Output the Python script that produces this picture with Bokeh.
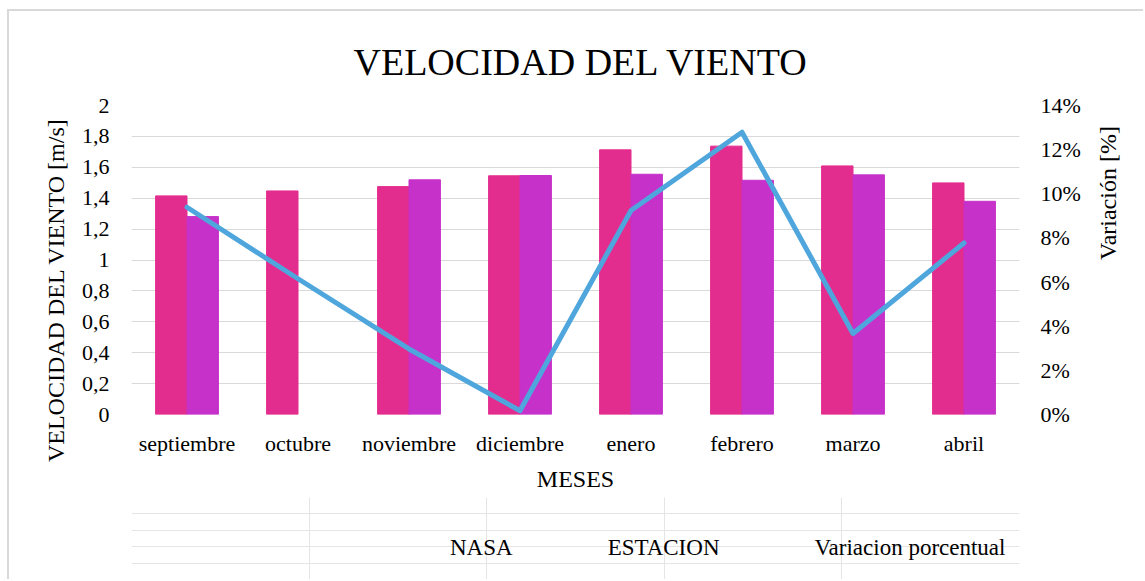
import math
from bokeh.plotting import figure
from bokeh.layouts import column
from bokeh.models import (ColumnDataSource, FactorRange, Range1d, LinearAxis,
                          FixedTicker, Legend, LegendItem)
from bokeh.transform import dodge
from bokeh.embed import file_html
from bokeh.resources import INLINE

# ---- data ----
months = ["septiembre", "octubre", "noviembre", "diciembre",
          "enero", "febrero", "marzo", "abril"]
nasa = [1.415, 1.447, 1.475, 1.545, 1.713, 1.737, 1.609, 1.499]
estacion = [1.281, float("nan"), 1.519, 1.547, 1.555, 1.516, 1.551, 1.380]
variacion = [9.39, 6.15, 2.97, 0.17, 9.24, 12.79, 3.67, 7.77]  # percent

y_ticks = [0, 0.2, 0.4, 0.6, 0.8, 1.0, 1.2, 1.4, 1.6, 1.8, 2.0]
y_tick_labels = ["0", "0,2", "0,4", "0,6", "0,8", "1", "1,2", "1,4", "1,6", "1,8", "2"]
y2_ticks = [0, 2, 4, 6, 8, 10, 12, 14]
y2_tick_labels = ["0%", "2%", "4%", "6%", "8%", "10%", "12%", "14%"]
series_names = ["NASA", "ESTACION", "Variacion porcentual"]

C_NASA = "#E32D8E"
C_EST = "#C631C9"
C_LINE = "#4EA6DC"
FONT = "Liberation Serif"
BORDER = "2px solid #D9D9D9"

src = ColumnDataSource(dict(m=months, nasa=nasa, est=estacion, var=variacion))

p = figure(width=1136, height=488, x_range=FactorRange(*months),
           y_range=Range1d(0, 2), output_backend="svg", toolbar_location=None,
           min_border_left=122, min_border_right=126, min_border_top=94,
           min_border_bottom=85, title="VELOCIDAD DEL VIENTO")
p.styles = {"margin-left": "7px", "margin-top": "9px",
            "border-left": BORDER, "border-top": BORDER}
p.outline_line_color = None
p.background_fill_color = "white"
p.border_fill_color = "white"

p.title.text_font = FONT
p.title.text_font_size = "38px"
p.title.text_font_style = "normal"
p.title.text_color = "#000000"
p.title.align = "left"
p.title.standoff = 45
p.title.offset = 222

p.extra_y_ranges = {"pct": Range1d(0, 14)}

w = 0.283
p.vbar(x=dodge("m", -w / 2, range=p.x_range), top="nasa", width=w,
       source=src, fill_color=C_NASA, line_color=C_NASA)
p.vbar(x=dodge("m", w / 2, range=p.x_range), top="est", width=w,
       source=src, fill_color=C_EST, line_color=C_EST)
p.line(x="m", y="var", source=src, y_range_name="pct", line_color=C_LINE,
       line_width=5, line_cap="round", line_join="round")

# grid
p.xgrid.grid_line_color = None
p.ygrid.ticker = FixedTicker(ticks=y_ticks)
p.ygrid.grid_line_color = "#D9D9D9"
p.ygrid.grid_line_width = 1

# left axis
ax = p.yaxis[0]
ax.ticker = FixedTicker(ticks=y_ticks)
ax.major_label_overrides = {t: l for t, l in zip(y_ticks, y_tick_labels)}
ax.axis_label = "VELOCIDAD DEL VIENTO [m/s]" + "\u00a0" * 10

# right axis
ax2 = LinearAxis(y_range_name="pct", ticker=FixedTicker(ticks=y2_ticks),
                 axis_label="Variación [%]")
ax2.major_label_overrides = {t: l for t, l in zip(y2_ticks, y2_tick_labels)}
if hasattr(ax2, "axis_label_orientation"):
    ax2.axis_label_orientation = math.pi / 2
p.add_layout(ax2, "right")

xa = p.xaxis[0]
xa.axis_label = "MESES"

for a in (ax, ax2, xa):
    a.axis_line_color = None
    a.major_tick_line_color = None
    a.minor_tick_line_color = None
    a.major_tick_out = 0
    a.major_tick_in = 0
    a.minor_tick_out = 0
    a.major_label_text_font = FONT
    a.major_label_text_font_size = "22px"
    a.major_label_text_color = "#000000"
    a.axis_label_text_font = FONT
    a.axis_label_text_font_size = "24px"
    a.axis_label_text_font_style = "normal"
    a.axis_label_text_color = "#000000"

ax.major_label_standoff = 22
ax.axis_label_standoff = 10
ax2.major_label_standoff = 21
ax2.axis_label_standoff = 24
xa.major_label_standoff = 16
xa.axis_label_standoff = 7
xa.group_text_font_size = "0px"

# ---- legend strip below the chart ----
pl = figure(width=1136, height=82, output_backend="svg", toolbar_location=None,
            x_axis_location=None, y_axis_location=None, min_border=0,
            x_range=Range1d(0, 1), y_range=Range1d(0, 1))
pl.styles = {"margin-left": "7px", "border-left": BORDER}
pl.outline_line_color = None
pl.background_fill_color = "white"
pl.border_fill_color = "white"
empty = ColumnDataSource(dict(x=[], top=[], y=[]))
l1 = pl.vbar(x="x", top="top", width=0.1, source=empty,
             fill_color=C_NASA, line_color=C_NASA)
l2 = pl.vbar(x="x", top="top", width=0.1, source=empty,
             fill_color=C_EST, line_color=C_EST)
l3 = pl.line(x="x", y="y", source=empty, line_color=C_LINE, line_width=5,
             line_cap="round", line_join="round")

legend = Legend(items=[LegendItem(label=series_names[0], renderers=[l1]),
                       LegendItem(label=series_names[1], renderers=[l2]),
                       LegendItem(label=series_names[2], renderers=[l3])],
                orientation="horizontal", location=(257, 18))
legend.label_text_font = FONT
legend.label_text_font_size = "23px"
legend.label_text_color = "#000000"
legend.glyph_width = 60
legend.glyph_height = 16
legend.label_standoff = 2
legend.spacing = 33
legend.padding = 0
legend.margin = 0
legend.border_line_color = None
legend.background_fill_alpha = 0
pl.add_layout(legend, "center")

layout = column(p, pl, spacing=0)
open("out.html", "w").write(file_html(layout, INLINE))
